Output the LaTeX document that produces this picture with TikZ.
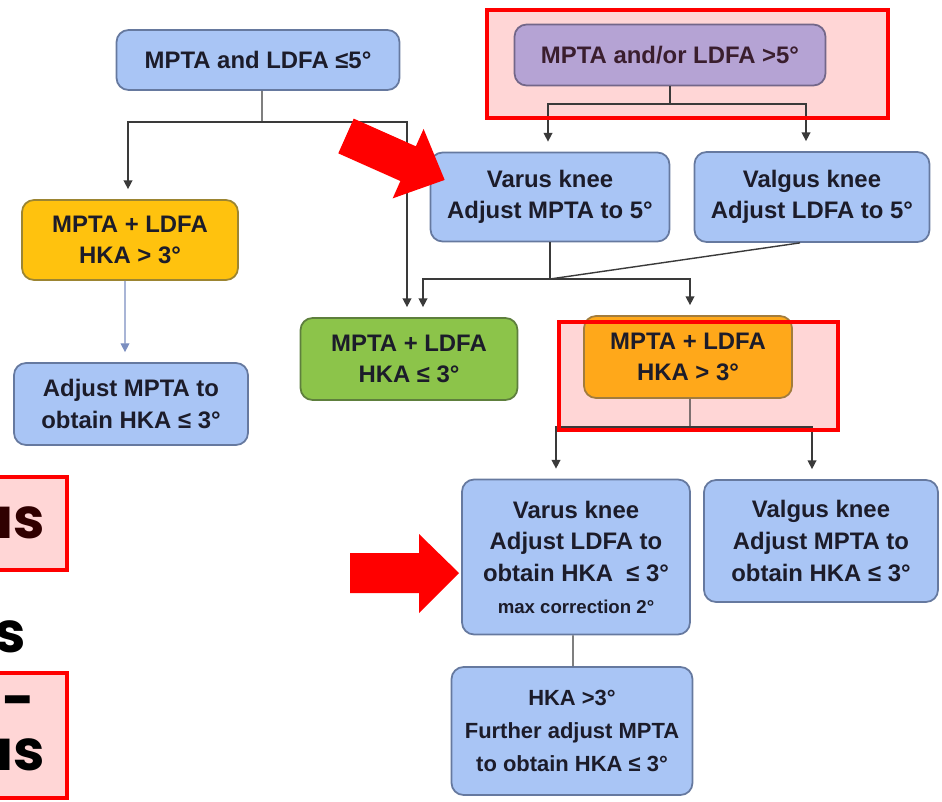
\documentclass[tikz,border=0pt]{standalone}
\usepackage{fontspec}
\setmainfont{Liberation Sans}
\newfontfamily\bigfont{Poppins}
\usetikzlibrary{positioning,calc,arrows.meta}

\definecolor{boxblue}{HTML}{A9C5F5}
\definecolor{edgeblue}{HTML}{66799F}
\definecolor{boxyellow}{HTML}{FFC20E}
\definecolor{edgeyellow}{HTML}{9C8532}
\definecolor{boxpurple}{HTML}{B5A3D4}
\definecolor{edgepurple}{HTML}{736789}
\definecolor{boxgreen}{HTML}{8CC44A}
\definecolor{edgegreen}{HTML}{5E7F3D}
\definecolor{boxorange}{HTML}{FFA81A}
\definecolor{edgeorange}{HTML}{A27C3D}
\definecolor{pinkbg}{HTML}{FFD6D6}
\definecolor{linegrey}{HTML}{3A3A3A}
\definecolor{thinblue}{HTML}{7B8EC0}
\definecolor{txtdark}{HTML}{1C1C2A}
\definecolor{txtplum}{HTML}{3A1E2E}
\definecolor{maroon}{HTML}{300000}

\begin{document}
\begin{tikzpicture}[
    x=0.02cm, y=-0.02cm,
    box/.style={rectangle, rounded corners=0.24cm, line width=1pt, align=center,
        inner sep=0pt, text=txtdark, font=\bfseries\fontsize{13.6}{18}\selectfont},
    bluebox/.style={box, fill=boxblue, draw=edgeblue},
    yellowbox/.style={box, fill=boxyellow, draw=edgeyellow},
    purplebox/.style={box, fill=boxpurple, draw=edgepurple, text=txtplum},
    greenbox/.style={box, fill=boxgreen, draw=edgegreen},
    orangebox/.style={box, fill=boxorange, draw=edgeorange},
    link/.style={draw=linegrey, line width=0.8pt},
    flow/.style={link, -{Triangle[length=5pt,width=5pt]}, shorten >=0.2cm},
    redframe/.style={draw=red, line width=2.2pt},
    bigword/.style={font=\bigfont\bfseries\fontsize{32}{36}\selectfont, anchor=base east, inner sep=0pt}
]
    \clip[use as bounding box] (0,0) rectangle (942,801);

    % Highlight backgrounds
    \fill[pinkbg] (487,10) rectangle (888,118);
    \fill[pinkbg] (559,322) rectangle (838,430);

    % Left branch
    \node[bluebox, minimum width=5.66cm, minimum height=1.2cm] (lowA) at (258,60) {MPTA and LDFA ≤5°};
    \node[yellowbox, minimum width=4.32cm, minimum height=1.6cm] (lowB) at (130,240) {MPTA + LDFA\\HKA > 3°};
    \node[bluebox, minimum width=4.68cm, minimum height=1.64cm] (lowC) at (131,404) {Adjust MPTA to\\obtain HKA ≤ 3°};

    % Right branch
    \node[purplebox, minimum width=6.22cm, minimum height=1.22cm] (hiA) at (670,55) {MPTA and/or LDFA >5°};
    \node[bluebox, minimum width=4.78cm, minimum height=1.78cm] (hiVar) at (550,197) {Varus knee\\Adjust MPTA to 5°};
    \node[bluebox, minimum width=4.7cm, minimum height=1.8cm] (hiVal) at (812,197) {Valgus knee\\Adjust LDFA to 5°};

    % Outcomes
    \node[greenbox, minimum width=4.34cm, minimum height=1.64cm] (ok) at (409,359) {MPTA + LDFA\\HKA ≤ 3°};
    \node[orangebox, minimum width=4.16cm, minimum height=1.64cm] (notok) at (688,357) {MPTA + LDFA\\HKA > 3°};
    \node[bluebox, minimum width=4.56cm, minimum height=3.1cm, font=\bfseries\fontsize{13.6}{18}\selectfont] (fixVar) at (576,557)
        {Varus knee\\Adjust LDFA to\\obtain HKA \ ≤ 3°\\{\fontsize{10.6}{12}\selectfont max correction 2°}};
    \node[bluebox, minimum width=4.68cm, minimum height=2.44cm, font=\bfseries\fontsize{13.6}{18}\selectfont] (fixVal) at (821,541)
        {Valgus knee\\Adjust MPTA to\\obtain HKA ≤ 3°};
    \node[bluebox, minimum width=4.82cm, minimum height=2.56cm, font=\bfseries\fontsize{12.5}{19}\selectfont] (further) at (572,731)
        {HKA >3°\\Further adjust MPTA\\to obtain HKA ≤ 3°};

    % Connectors
    \coordinate (jA) at (262,122);
    \draw[link] ([xshift=0.08cm]lowA.south) -- (jA);
    \draw[flow] (jA) -| ([xshift=-0.04cm]lowB.north);
    \draw[flow] (jA) -| ([xshift=-0.04cm]ok.north);
    \draw[draw=thinblue, line width=0.6pt, -{Triangle[length=5pt,width=5pt]}, shorten >=0.2cm]
        ([xshift=-0.1cm]lowB.south) -- ([xshift=-0.12cm]lowC.north);

    \coordinate (jD) at (670,104);
    \draw[link] (hiA.south) -- (jD);
    \draw[flow] (jD) -| ([xshift=-0.04cm]hiVar.north);
    \draw[flow] (jD) -| ([xshift=-0.12cm]hiVal.north);

    \coordinate (jE) at (550,279);
    \draw[link] (hiVar.south) -- (jE);
    \draw[link] ([xshift=-0.24cm]hiVal.south) -- (jE);
    \draw[flow] (jE) -| ([xshift=0.28cm]ok.north);
    \draw[flow] (jE) -| ([xshift=0.04cm]notok.north);

    \coordinate (jH) at (690,427);
    \draw[link] ([xshift=0.04cm]notok.south) -- (jH);
    \draw[flow] (jH) -| ([xshift=-0.4cm]fixVar.north);
    \draw[flow] (jH) -| ([xshift=-0.18cm]fixVal.north);
    \draw[link] ([xshift=-0.06cm]fixVar.south) -- ([xshift=0.02cm]further.north);

    % Red frames
    \draw[redframe] (487,10) rectangle (888,118);
    \draw[redframe] (559,322) rectangle (838,430);

    % Red pointers
    \fill[red, shift={(346,136)}, rotate=-24] (0,-19) -- (68,-19) -- (68,-38) -- (108,0) -- (68,38) -- (68,19) -- (0,19) -- cycle;
    \fill[red] (350,553) -- (419,553) -- (419,534) -- (459,573) -- (419,613) -- (419,593) -- (350,593) -- cycle;

    % Cut-off words at the left edge
    \filldraw[fill=pinkbg, redframe] (-10,477) rectangle (67,570);
    \node[bigword, text=maroon] (wordA) at (45,538) {us};
    \node[bigword] (wordB) at (26,652) {s};
    \filldraw[fill=pinkbg, redframe] (-10,673) rectangle (67,798);
    \node[bigword] (wordC) at (35,719) {-\kern3.5pt-};
    \node[bigword] (wordD) at (45,770) {us};
\end{tikzpicture}
\end{document}
